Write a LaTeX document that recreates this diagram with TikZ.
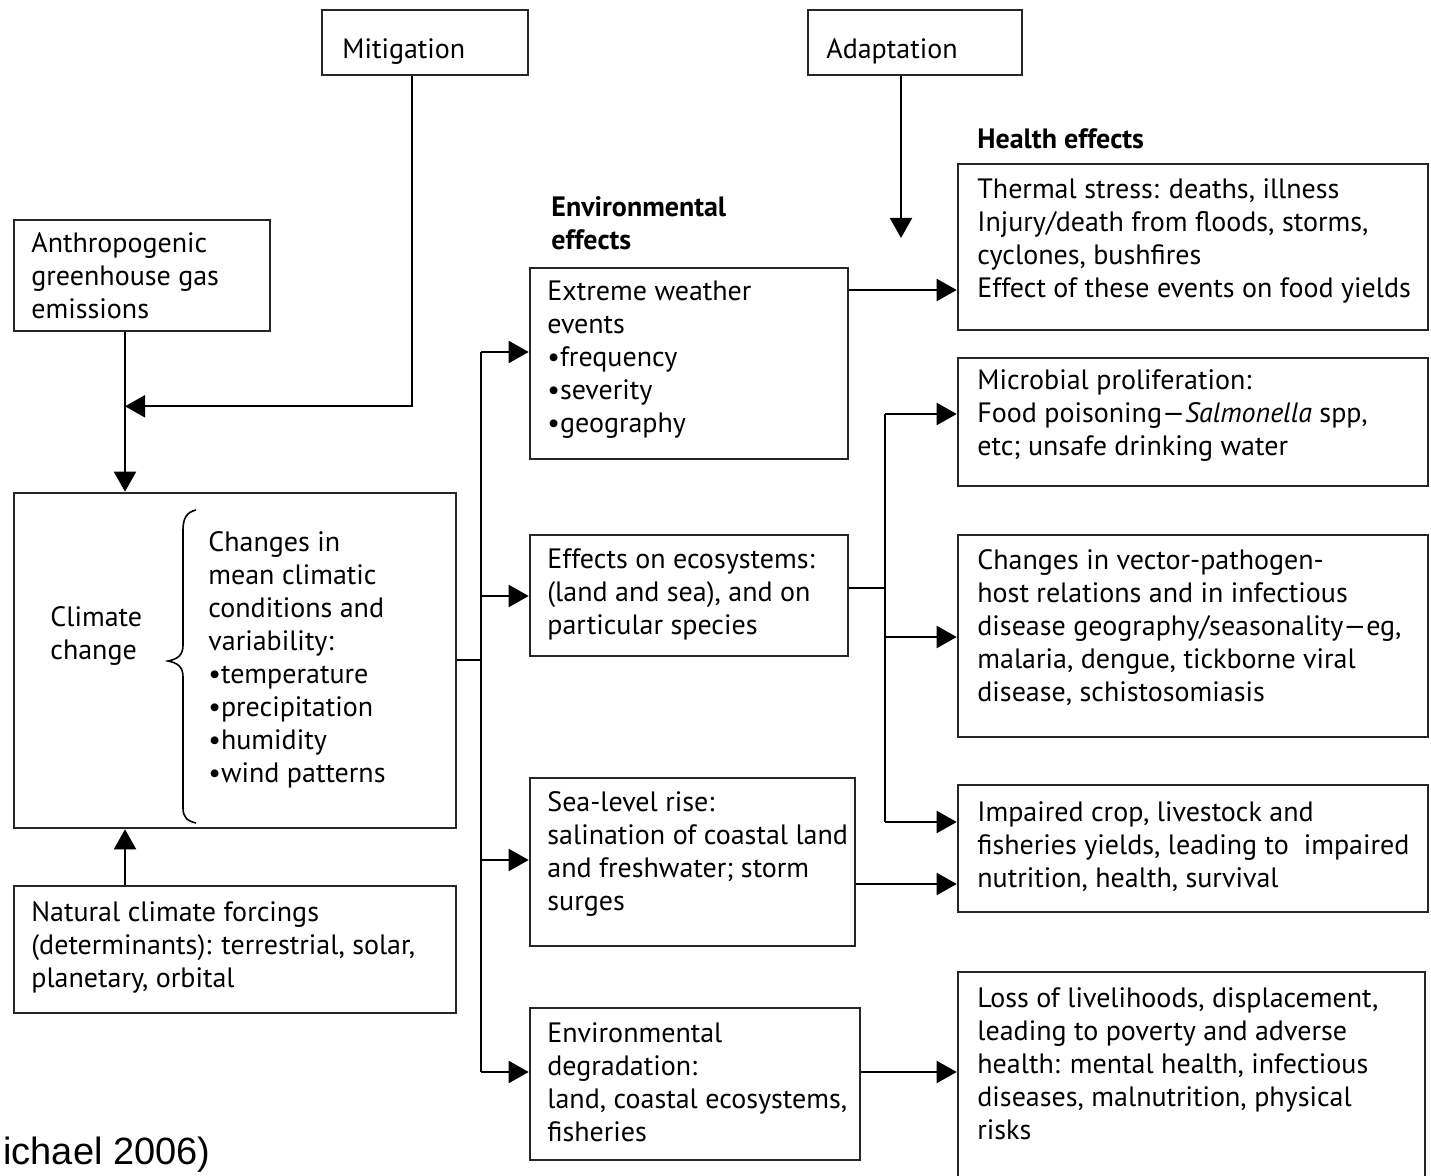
\documentclass[tikz,border=0pt]{standalone}
\usepackage{fontspec}
\setmainfont{PT Sans}
\newfontfamily\arialfont{Liberation Sans}
\usetikzlibrary{arrows.meta,fit}
\begin{document}
\begin{tikzpicture}[x=0.5pt,y=-0.5pt,
  box/.style={draw=black!85, line width=1.3pt, inner sep=0pt},
  txt/.style={anchor=north west, inner sep=0pt, align=left, font=\fontsize{14}{16.5}\selectfont},
  hd/.style={txt, font=\bfseries\fontsize{14}{16.5}\selectfont},
  conn/.style={line width=1pt, -{Triangle[length=10pt,width=11pt]}},
  plain/.style={line width=1pt}]
\useasboundingbox (0,0) rectangle (1431,1176);
\clip (0,0) rectangle (1431,1176);

% boxes
\node[box, fit={(322,10) (528,75)}] (mit) {};
\node[box, fit={(808,10) (1022,75)}] (adap) {};
\node[box, fit={(14,220) (270,331)}] (anth) {};
\node[box, fit={(14,493) (456,828)}] (clim) {};
\node[box, fit={(14,886) (456,1013)}] (nat) {};
\node[box, fit={(530,268) (848,459)}] (ext) {};
\node[box, fit={(530,535) (848,656)}] (eco) {};
\node[box, fit={(530,778) (855,946)}] (sea) {};
\node[box, fit={(530,1008) (860,1160)}] (env) {};
\node[box, fit={(958,164) (1428,330)}] (therm) {};
\node[box, fit={(958,358) (1428,486)}] (micro) {};
\node[box, fit={(958,535) (1428,737)}] (vect) {};
\node[box, fit={(958,785) (1428,912)}] (imp) {};
\node[box, fit={(958,972) (1425,1200)}] (loss) {};

% texts
\node[txt] (mitT) at (342,35) {\strut Mitigation};
\node[txt] (adapT) at (826,35) {\strut Adaptation};
\node[hd] (healthH) at (977,125) {\strut Health effects};
\node[hd] (envH) at (551,193) {\strut Environmental\\effects};
\node[txt] (anthT) at (31,229) {\strut Anthropogenic\\greenhouse gas\\emissions};
\node[txt] (climT) at (50,603) {\strut Climate\\change};
\node[txt] (chgT) at (208,528) {\strut Changes in\\mean climatic\\conditions and\\variability:\\•temperature\\•precipitation\\•humidity\\•wind patterns};
\node[txt] (natT) at (31,898) {\strut Natural climate forcings\\(determinants): terrestrial, solar,\\planetary, orbital};
\node[txt] (extT) at (547,277) {\strut Extreme weather\\events\\•frequency\\•severity\\•geography};
\node[txt] (ecoT) at (547,545) {\strut Effects on ecosystems:\\(land and sea), and on\\particular species};
\node[txt] (seaT) at (547,788) {\strut Sea-level rise:\\salination of coastal land\\and freshwater; storm\\surges};
\node[txt] (envT) at (547,1019) {\strut Environmental\\degradation:\\land, coastal ecosystems,\\fisheries};
\node[txt] (thermT) at (977,175) {\strut Thermal stress: deaths, illness\\Injury/death from floods, storms,\\cyclones, bushfires\\Effect of these events on food yields};
\node[txt] (microT) at (977,366) {\strut Microbial proliferation:\\Food poisoning—\textit{Salmonella} spp,\\etc; unsafe drinking water};
\node[txt] (vectT) at (977,546) {\strut Changes in vector-pathogen-\\host relations and in infectious\\disease geography/seasonality—eg,\\malaria, dengue, tickborne viral\\disease, schistosomiasis};
\node[txt] (impT) at (977,798) {\strut Impaired crop, livestock and\\fisheries yields, leading to\ \ impaired\\nutrition, health, survival};
\node[txt] (lossT) at (977,984) {\strut Loss of livelihoods, displacement,\\leading to poverty and adverse\\health: mental health, infectious\\diseases, malnutrition, physical\\risks};
\node[anchor=base west, inner sep=0pt, font=\arialfont\fontsize{19}{22}\selectfont] (cite) at (3,1164) {ichael 2006)};

% brace
\draw[line width=0.8pt] (196,510) .. controls (187,512) and (183,518) .. (183,530) -- (183,645) .. controls (183,655) and (178,659) .. (168,661) .. controls (178,663) and (183,667) .. (183,677) -- (183,808) .. controls (183,817) and (187,821) .. (196,823);

% left connectors
\coordinate (mj) at ([xshift=-8.5pt,yshift=-37pt]anth.south);
\draw[conn] ([xshift=-8.5pt]anth.south) -- (mj |- clim.north);
\draw[conn] ([xshift=-6.5pt]mit.south) |- (mj);
\draw[conn] (mj |- nat.north) -- (mj |- clim.south);
\coordinate (adtip) at (901,238);
\draw[conn] (adap.south -| adtip) -- (adtip);

% trunk
\coordinate (b1) at (481,352);
\coordinate (b2) at (481,596);
\coordinate (b3) at (481,860);
\coordinate (b4) at (481,1072);
\draw[plain] (clim.east) -- (clim.east -| b1);
\draw[plain] (b1) -- (b4);
\draw[conn] (b1) -- (b1 -| ext.west);
\draw[conn] (b2) -- (b2 -| eco.west);
\draw[conn] (b3) -- (b3 -| sea.west);
\draw[conn] (b4) -- (b4 -| env.west);

% right connectors
\draw[conn] ([yshift=36.75pt]ext.east) -- ([yshift=36.75pt]ext.east -| therm.west);
\coordinate (v0) at (885,588);
\coordinate (v1) at (885,414);
\coordinate (v2) at (885,637);
\coordinate (v3) at (885,822);
\draw[plain] (eco.east |- v0) -- (v0);
\draw[plain] (v1) -- (v3);
\draw[conn] (v1) -- (v1 -| micro.west);
\draw[conn] (v2) -- (v2 -| vect.west);
\draw[conn] (v3) -- (v3 -| imp.west);
\coordinate (sy) at (0,884);
\draw[conn] (sea.east |- sy) -- (imp.west |- sy);
\draw[conn] (env.east |- b4) -- (loss.west |- b4);
\end{tikzpicture}
\end{document}
